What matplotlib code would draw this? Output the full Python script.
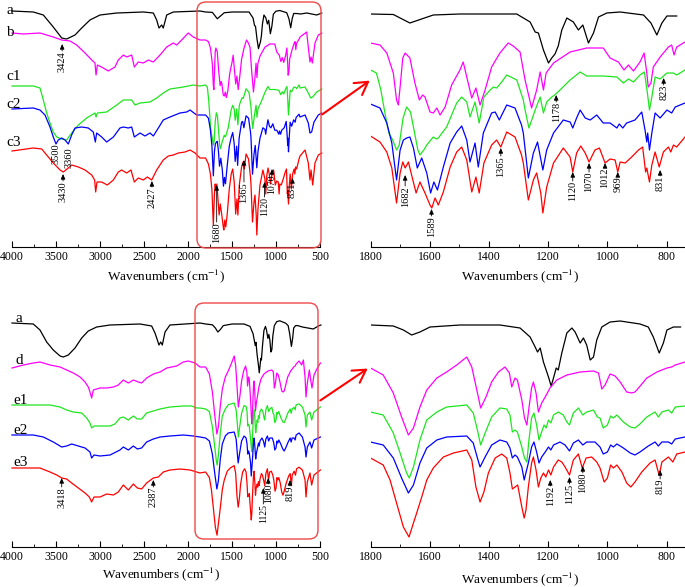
import numpy as np
import matplotlib
matplotlib.use("Agg")
import matplotlib.pyplot as plt
from matplotlib.patches import FancyBboxPatch, FancyArrowPatch
from matplotlib.ticker import MultipleLocator
from matplotlib.transforms import Affine2D

plt.rcParams['font.family'] = ['Liberation Serif', 'DejaVu Serif']
plt.rcParams['mathtext.fontset'] = 'stix'

W, H = 685, 587

# spectra, stacked, arbitrary units (grow downward)
# ---------------- upper figure: a, b, c1, c2, c3 ----------------
# 1800-740 cm-1 (zoomed panel)
top_a_zoom_wn = [1800, 1723, 1667, 1588, 1498, 1306, 1295, 1261, 1244, 1233, 1216, 1199, 1188, 1177, 1166, 1154,
                 1137, 1115, 1098, 1083, 1064, 1047, 1030, 1002, 957, 878, 853, 833, 816, 799, 766]
top_a_zoom_y = [14, 14.5, 23, 15, 14, 14, 16, 22, 32, 33, 50, 63, 58, 54, 46, 30,
                18, 22, 30, 25, 43, 33, 17, 13, 12, 15, 23, 35, 23, 16, 16]

top_b_zoom_wn = [1800, 1768, 1745, 1723, 1712, 1706, 1700, 1691, 1683, 1667, 1650, 1635, 1624, 1616, 1599, 1588,
                 1576, 1565, 1548, 1526, 1498, 1487, 1475, 1458, 1444, 1430, 1413, 1391, 1363, 1335, 1318, 1295,
                 1278, 1256, 1239, 1227, 1216, 1207, 1182, 1126, 1070, 1014, 991, 963, 944, 929, 912, 890,
                 876, 867, 862, 853, 845, 822, 794, 783, 775, 766, 738]
top_b_zoom_y = [43, 45, 53, 73, 100, 105, 87, 58, 53, 58, 83, 100, 95, 97, 112, 113,
                108, 115, 107, 85, 70, 62, 77, 98, 88, 105, 90, 67, 53, 43, 46, 52,
                80, 108, 90, 72, 90, 73, 63, 52, 48, 48, 58, 62, 70, 65, 71, 62,
                53, 73, 87, 83, 67, 57, 47, 45, 55, 47, 42]

top_c1_zoom_wn = [1800, 1780, 1765, 1750, 1738, 1725, 1712, 1703, 1690, 1678, 1665, 1655, 1640, 1633, 1620, 1610,
                  1588, 1578, 1571, 1543, 1509, 1492, 1475, 1464, 1447, 1433, 1417, 1396, 1385, 1374, 1357, 1340,
                  1306, 1284, 1278, 1265, 1244, 1227, 1216, 1205, 1188, 1178, 1160, 1126, 1092, 1070, 1014, 968,
                  946, 929, 912, 890, 875, 865, 858, 850, 839, 822, 799, 777, 766, 738]
top_c1_zoom_y = [70, 73, 90, 115, 133, 140, 150, 145, 118, 107, 112, 127, 150, 155, 150, 145,
                 137, 139, 138, 127, 103, 97, 102, 117, 102, 123, 97, 90, 87, 88, 82, 75,
                 80, 100, 110, 128, 110, 97, 113, 102, 97, 95, 90, 80, 72, 76, 76, 77,
                 83, 79, 82, 75, 72, 93, 110, 97, 77, 79, 73, 73, 75, 70]

top_c2_zoom_wn = [1800, 1768, 1745, 1728, 1712, 1700, 1689, 1678, 1667, 1655, 1642, 1627, 1610, 1597, 1586, 1574,
                  1554, 1531, 1509, 1492, 1475, 1464, 1447, 1436, 1419, 1391, 1379, 1365, 1340, 1312, 1290, 1284,
                  1267, 1250, 1236, 1218, 1205, 1182, 1149, 1126, 1117, 1104, 1092, 1075, 1058, 1036, 1014, 991,
                  968, 960, 948, 935, 907, 884, 873, 867, 864, 858, 850, 839, 822, 799, 783, 771, 738]
top_c2_zoom_y = [104, 108, 123, 143, 180, 150, 140, 138, 137, 148, 168, 158, 173, 193, 182, 190,
                 167, 143, 132, 126, 140, 162, 143, 167, 133, 113, 112, 120, 105, 108, 125, 133,
                 178, 153, 142, 170, 150, 133, 120, 122, 128, 118, 110, 118, 120, 115, 123, 123,
                 128, 124, 128, 123, 120, 112, 130, 142, 133, 150, 133, 113, 118, 110, 113, 107, 103]

top_c3_zoom_wn = [1800, 1768, 1745, 1728, 1712, 1700, 1691, 1683, 1672, 1657, 1646, 1633, 1616, 1599, 1593, 1582,
                  1571, 1554, 1531, 1509, 1492, 1475, 1458, 1444, 1433, 1417, 1391, 1374, 1360, 1340, 1312, 1290,
                  1284, 1267, 1250, 1239, 1225, 1218, 1205, 1182, 1149, 1126, 1117, 1104, 1090, 1075, 1062, 1042,
                  1027, 1008, 991, 974, 965, 957, 940, 918, 895, 881, 871, 867, 858, 850, 839, 825, 811, 794,
                  786, 777, 766, 738]
top_c3_zoom_y = [136, 142, 152, 168, 203, 173, 162, 168, 162, 180, 193, 182, 193, 205, 208, 198,
                 205, 192, 167, 152, 147, 160, 192, 177, 193, 163, 145, 140, 147, 132, 137, 155,
                 163, 200, 180, 173, 193, 213, 187, 163, 148, 157, 172, 153, 146, 153, 162, 150,
                 148, 163, 159, 160, 172, 162, 163, 157, 150, 147, 172, 168, 182, 165, 152, 167, 152, 147,
                 152, 145, 147, 137]

# outside 1800-740 cm-1 (full range panel)
top_a_wide_wn = [4000, 3758, 3644, 3531, 3435, 3379, 3284, 3208, 3114, 3000, 2810, 2508, 2394, 2356, 2330, 2299,
                 2281, 2242, 2167, 1864, 720, 651, 537, 480]
top_a_wide_y = [11, 12, 15, 27, 38, 39, 35, 28, 20, 15, 13, 12, 13, 20, 28, 25,
                28, 15, 12, 11, 14, 13, 15, 13]

top_b_wide_wn = [4000, 3872, 3682, 3531, 3435, 3341, 3265, 3170, 3094, 3057, 3045, 3030, 2962, 2906, 2830, 2792,
                 2735, 2697, 2640, 2610, 2565, 2508, 2451, 2394, 2318, 2242, 2167, 2129, 2072, 1997, 1940, 1864,
                 727, 651, 633, 614, 602, 587, 557, 519, 480]
top_b_wide_y = [33, 34, 33, 37, 40, 41, 45, 53, 60, 63, 75, 65, 68, 71, 67, 60,
                55, 57, 55, 67, 62, 63, 60, 62, 55, 47, 43, 45, 40, 33, 37, 40,
                37, 32, 47, 62, 57, 63, 43, 35, 33]

top_c1_wide_wn = [4000, 3758, 3682, 3644, 3606, 3568, 3531, 3492, 3435, 3379, 3322, 3246, 3151, 3057, 3045, 3030,
                  2924, 2810, 2735, 2640, 2602, 2545, 2432, 2356, 2281, 2205, 2129, 2053, 1940, 1864,
                  727, 670, 633, 606, 583, 537, 480]
top_c1_wide_y = [86, 86, 88, 100, 113, 123, 132, 137, 139, 140, 133, 125, 118, 113, 117, 113,
                 112, 105, 100, 100, 105, 103, 102, 98, 93, 89, 88, 87, 85, 86,
                 88, 87, 93, 98, 97, 92, 89]

top_c2_wide_wn = [4000, 3758, 3682, 3625, 3568, 3531, 3500, 3474, 3435, 3398, 3360, 3322, 3284, 3208, 3133, 3076,
                  3053, 3038, 2981, 2924, 2848, 2773, 2735, 2678, 2640, 2610, 2545, 2489, 2432, 2394, 2337, 2281,
                  2205, 2091, 2015, 1977, 1902, 1864, 727, 670, 633, 614, 595, 568, 519, 480]
top_c2_wide_y = [109, 108, 110, 115, 127, 137, 144, 140, 138, 140, 144, 135, 128, 127, 128, 132,
                 142, 133, 137, 142, 137, 128, 127, 128, 127, 137, 133, 136, 133, 136, 128, 120,
                 117, 113, 112, 110, 115, 115, 117, 115, 123, 133, 132, 122, 115, 113]

top_c3_wide_wn = [4000, 3758, 3662, 3606, 3531, 3454, 3417, 3360, 3322, 3246, 3170, 3094, 3061, 3049, 3034, 2981,
                  2917, 2848, 2792, 2754, 2697, 2648, 2610, 2565, 2508, 2462, 2413, 2356, 2281, 2224, 2167, 2110,
                  2034, 1977, 1920, 1864, 727, 670, 633, 614, 602, 583, 557, 519, 480]
top_c3_wide_y = [151, 148, 149, 155, 163, 170, 172, 168, 165, 167, 170, 175, 180, 192, 182, 182,
                 185, 180, 172, 170, 173, 170, 182, 178, 180, 177, 180, 170, 160, 156, 155, 153,
                 152, 150, 153, 158, 156, 150, 163, 180, 170, 185, 163, 155, 153]

# ---------------- lower figure: a, d, e1, e2, e3 ----------------
bot_a_zoom_wn = [1800, 1723, 1689, 1661, 1633, 1599, 1498, 1363, 1295, 1261, 1244, 1236, 1227, 1216, 1199, 1190,
                 1182, 1173, 1166, 1154, 1137, 1120, 1109, 1092, 1081, 1070, 1058, 1047, 1036, 1019, 991, 957,
                 890, 862, 845, 825, 811, 799, 777, 753]
bot_a_zoom_y = [325, 326, 330, 335, 332, 327, 325, 325, 328, 337, 347, 352, 348, 362, 377, 386,
                378, 368, 370, 353, 333, 328, 332, 343, 338, 345, 360, 357, 340, 327, 322, 321,
                324, 327, 337, 353, 343, 330, 327, 327]

bot_d_zoom_wn = [1800, 1757, 1723, 1695, 1672, 1655, 1633, 1610, 1576, 1543, 1509, 1475, 1458, 1441, 1428, 1410,
                 1391, 1368, 1346, 1331, 1323, 1312, 1304, 1289, 1280, 1272, 1265, 1256, 1250, 1241, 1233, 1222,
                 1210, 1194, 1171, 1137, 1092, 1047, 1030, 1019, 1008, 991, 974, 957, 935, 918, 907, 895,
                 867, 833, 799, 783, 771, 738]
bot_d_zoom_y = [368, 375, 393, 417, 435, 428, 407, 390, 378, 372, 365, 357, 367, 390, 408, 397,
                382, 372, 367, 373, 387, 378, 380, 400, 418, 425, 408, 388, 382, 393, 412, 403,
                397, 388, 380, 375, 372, 371, 373, 389, 385, 374, 376, 382, 392, 393, 392, 388,
                378, 372, 368, 367, 365, 362]

bot_e1_zoom_wn = [1800, 1757, 1723, 1700, 1678, 1669, 1655, 1633, 1610, 1576, 1543, 1475, 1453, 1439, 1428, 1413,
                  1391, 1363, 1340, 1329, 1321, 1312, 1304, 1289, 1280, 1272, 1265, 1256, 1248, 1239, 1231, 1222,
                  1214, 1207, 1199, 1191, 1182, 1166, 1149, 1137, 1128, 1115, 1098, 1083, 1070, 1047, 1034, 1025,
                  1014, 1000, 989, 980, 968, 946, 923, 907, 890, 867, 839, 828, 816, 794, 783, 771, 738]
bot_e1_zoom_y = [412, 415, 433, 453, 473, 478, 467, 440, 420, 412, 407, 405, 413, 430, 445, 433,
                 417, 408, 409, 415, 432, 430, 432, 447, 458, 462, 440, 418, 413, 425, 440, 432,
                 425, 428, 420, 423, 415, 412, 415, 422, 425, 413, 408, 415, 412, 410, 417, 418,
                 428, 425, 416, 418, 415, 422, 427, 428, 424, 417, 412, 417, 412, 410, 413, 407, 406]

bot_e2_zoom_wn = [1800, 1757, 1723, 1695, 1672, 1655, 1633, 1610, 1576, 1543, 1475, 1453, 1439, 1430, 1413, 1391,
                  1363, 1340, 1329, 1321, 1312, 1304, 1289, 1281, 1267, 1256, 1248, 1239, 1231, 1222, 1210, 1199,
                  1191, 1182, 1160, 1143, 1128, 1115, 1098, 1083, 1070, 1042, 1025, 1014, 1000, 989, 980, 968,
                  946, 923, 907, 890, 862, 839, 828, 816, 794, 783, 771, 738]
bot_e2_zoom_y = [442, 445, 458, 478, 493, 485, 463, 448, 440, 437, 436, 443, 458, 467, 457, 445,
                 440, 442, 448, 458, 455, 457, 467, 480, 463, 447, 442, 452, 463, 457, 452, 447,
                 450, 445, 442, 445, 451, 443, 440, 445, 442, 442, 447, 454, 452, 445, 447, 444,
                 448, 453, 455, 452, 446, 442, 446, 442, 442, 444, 439, 437]

bot_e3_zoom_wn = [1800, 1757, 1734, 1712, 1689, 1670, 1655, 1644, 1627, 1610, 1588, 1554, 1520, 1475, 1458, 1444,
                  1430, 1417, 1402, 1379, 1357, 1340, 1329, 1321, 1312, 1303, 1289, 1281, 1275, 1267, 1256, 1250,
                  1241, 1233, 1225, 1216, 1208, 1199, 1191, 1182, 1166, 1154, 1143, 1128, 1115, 1098, 1085, 1072,
                  1053, 1036, 1025, 1011, 1000, 989, 980, 968, 951, 935, 921, 907, 884, 856, 839, 830,
                  825, 816, 794, 779, 766, 738]
bot_e3_zoom_y = [458, 465, 480, 503, 527, 537, 523, 513, 497, 480, 468, 457, 453, 450, 460, 487,
                 502, 492, 473, 458, 454, 458, 473, 489, 487, 485, 507, 518, 510, 487, 463, 457,
                 470, 487, 478, 473, 477, 470, 475, 467, 460, 462, 467, 475, 460, 454, 468, 458,
                 457, 462, 468, 482, 478, 465, 468, 465, 472, 483, 487, 482, 472, 463, 460, 470,
                 475, 462, 457, 462, 454, 452]

bot_a_wide_wn = [4000, 3758, 3682, 3606, 3531, 3454, 3417, 3360, 3284, 3208, 3133, 3038, 2886, 2545, 2413, 2375,
                 2348, 2330, 2310, 2292, 2261, 2205, 1864, 700, 576, 519, 490]
bot_a_wide_y = [323, 324, 330, 342, 350, 356, 357, 355, 348, 338, 331, 327, 325, 324, 326, 333,
                340, 345, 342, 345, 332, 325, 323, 327, 329, 326, 325]

bot_d_wide_wn = [4000, 3872, 3758, 3682, 3568, 3454, 3379, 3303, 3227, 3170, 3133, 3114, 3095, 3076, 3000, 2924,
                 2848, 2792, 2735, 2678, 2621, 2565, 2527, 2470, 2394, 2318, 2242, 2129, 2053, 1997, 1920, 1864,
                 708, 689, 670, 659, 644, 621, 606, 591, 568, 530, 495]
bot_d_wide_y = [368, 365, 363, 362, 365, 367, 370, 373, 377, 382, 387, 392, 398, 390, 388, 388,
                387, 385, 380, 383, 380, 382, 383, 378, 374, 372, 368, 366, 362, 361, 363, 367,
                365, 360, 377, 397, 383, 370, 380, 388, 375, 368, 363]

bot_e1_wide_wn = [4000, 3568, 3454, 3379, 3303, 3208, 3151, 3114, 3095, 3068, 3000, 2886, 2830, 2773, 2735, 2678,
                  2621, 2576, 2527, 2470, 2394, 2318, 2205, 2053, 1958, 1902, 1864,
                  700, 670, 659, 644, 614, 595, 568, 495]
bot_e1_wide_y = [405, 405, 407, 410, 412, 413, 418, 423, 428, 426, 426, 426, 424, 418, 417, 420,
                 416, 419, 419, 413, 411, 409, 407, 406, 406, 408, 408,
                 407, 415, 427, 415, 412, 420, 412, 407]

bot_e2_wide_wn = [4000, 3758, 3644, 3531, 3435, 3379, 3322, 3246, 3170, 3114, 3095, 3068, 3000, 2886, 2773, 2735,
                  2678, 2621, 2576, 2527, 2470, 2394, 2318, 2205, 2053, 1940, 1864,
                  700, 670, 659, 644, 614, 595, 568, 495]
bot_e2_wide_y = [435, 435, 437, 442, 447, 446, 444, 446, 448, 452, 458, 455, 456, 455, 450, 447,
                 450, 446, 449, 448, 442, 439, 437, 436, 435, 436, 437,
                 437, 447, 457, 447, 442, 448, 440, 437]

bot_e3_wide_wn = [4000, 3682, 3568, 3492, 3435, 3379, 3322, 3246, 3170, 3121, 3095, 3068, 3000, 2924, 2848, 2792,
                  2735, 2678, 2621, 2576, 2527, 2470, 2394, 2337, 2281, 2205, 2091, 1977, 1902, 1864,
                  700, 670, 659, 644, 614, 595, 568, 495]
bot_e3_wide_y = [468, 468, 472, 475, 478, 479, 483, 488, 493, 497, 502, 497, 497, 494, 495, 492,
                 485, 490, 484, 488, 489, 483, 478, 477, 472, 470, 469, 470, 472, 473,
                 470, 480, 497, 482, 473, 485, 475, 470]

# peak labels: text, wavenumber
top_full_peaks = ['3424', '3500', '3360', '3430', '2427', '1680', '1365', '1120', '1070', '831']
top_full_peak_wn = [3430, 3495, 3355, 3420, 2410, 1674, 1364, 1130, 1045, 813]
top_zoom_peaks = ['1682', '1589', '1365', '1178', '823', '1120', '1070', '1012', '969', '831']
top_zoom_peak_wn = [1683, 1594, 1360, 1173, 810, 1117, 1062, 1008, 965, 822]
bot_full_peaks = ['3418', '2387', '1125', '1080', '819']
bot_full_peak_wn = [3435, 2394, 1144, 1088, 841]
bot_zoom_peaks = ['1192', '1125', '1080', '819']
bot_zoom_peak_wn = [1193, 1128, 1083, 822]

# layout: arrow tip / text top (px) and font size for each label
top_full_marks = [(44, 51, 7.5), (None, 143, 7.5), (None, 147, 7.5), (174, 181, 7.5), (181, 187, 7.5),
                  (185, 222, 7.5), (160, 182, 7.5), (182, 197, 7), (169, 175, 7), (178, 183, 7.5)]
top_zoom_marks = [(175, 186, 7.5), (209, 216, 7.5), (148, 156, 7.5), (95, 102, 7.5), (78, 85, 7.5),
                  (172, 181, 7.5), (163, 172, 7.5), (163, 168, 7.5), (172, 176, 7.5), (170, 176, 7.5)]
bot_full_marks = [(478, 487, 7.5), (480, 487, 7.5), (488, 504, 7), (478, 484, 7), (480, 486, 7.5)]
bot_zoom_marks = [(480, 486, 7.5), (477, 484, 7.5), (466, 473, 7.5), (470, 479, 7.5)]

colors = {'a': 'black', 'b': '#ff00ff', 'd': '#ff00ff', 'c1': '#1ee61e', 'e1': '#1ee61e',
          'c2': '#0000ff', 'e2': '#0000ff', 'c3': '#ff0000', 'e3': '#ff0000'}

top_set = [('a', top_a_wide_wn, top_a_wide_y, top_a_zoom_wn, top_a_zoom_y, 12, 0.75),
           ('b', top_b_wide_wn, top_b_wide_y, top_b_zoom_wn, top_b_zoom_y, 40, 0.8),
           ('c1', top_c1_wide_wn, top_c1_wide_y, top_c1_zoom_wn, top_c1_zoom_y, 85, 0.75),
           ('c2', top_c2_wide_wn, top_c2_wide_y, top_c2_zoom_wn, top_c2_zoom_y, 115, 0.8),
           ('c3', top_c3_wide_wn, top_c3_wide_y, top_c3_zoom_wn, top_c3_zoom_y, 158, 1.0)]
bot_set = [('a', bot_a_wide_wn, bot_a_wide_y, bot_a_zoom_wn, bot_a_zoom_y, 324, 0.8),
           ('d', bot_d_wide_wn, bot_d_wide_y, bot_d_zoom_wn, bot_d_zoom_y, 367, 1.0),
           ('e1', bot_e1_wide_wn, bot_e1_wide_y, bot_e1_zoom_wn, bot_e1_zoom_y, 409, 0.85),
           ('e2', bot_e2_wide_wn, bot_e2_wide_y, bot_e2_zoom_wn, bot_e2_zoom_y, 438, 1.0),
           ('e3', bot_e3_wide_wn, bot_e3_wide_y, bot_e3_zoom_wn, bot_e3_zoom_y, 472, 0.8)]


def stitch(wide_wn, wide_y, zoom_wn, zoom_y, base, k):
    # full range curve = own points outside the zoom window + rescaled zoom window
    zy = base + k * (np.asarray(zoom_y, float) - zoom_y[0])
    wn = np.concatenate([wide_wn, zoom_wn]).astype(float)
    y = np.concatenate([wide_y, zy])
    order = np.argsort(wn)[::-1]
    return wn[order], y[order]


fig = plt.figure(figsize=(W / 100, H / 100), dpi=100)
pix = Affine2D().scale(1 / W, -1 / H).translate(0, 1) + fig.transFigure


def panel(x0, x1, y0, y1, xlim, major, minor, lab_x, lab_gap):
    ax = fig.add_axes([x0 / W, 1 - y1 / H, (x1 - x0) / W, (y1 - y0) / H])
    ax.set_xlim(xlim)
    ax.set_ylim(y1, y0)
    ax.patch.set_visible(False)
    for s in ('left', 'right', 'top'):
        ax.spines[s].set_visible(False)
    ax.spines['bottom'].set_linewidth(0.8)
    ax.set_yticks([])
    ax.xaxis.set_major_locator(MultipleLocator(major))
    ax.xaxis.set_minor_locator(MultipleLocator(minor))
    ax.tick_params(axis='x', which='major', direction='in', length=4, width=0.8, labelsize=8.5, pad=3)
    ax.tick_params(axis='x', which='minor', direction='in', length=2.5, width=0.6)
    ax.set_xlabel('Wavenumbers (cm$^{-1}$)', fontsize=9.5)
    ax.xaxis.set_label_coords(lab_x, -lab_gap / (y1 - y0))
    return ax


def marks(ax, names, wns, layout):
    for txt, wn, (tip, top, fs) in zip(names, wns, layout):
        if tip is not None:
            ax.annotate('', xy=(wn, tip), xytext=(wn, top),
                        arrowprops=dict(arrowstyle='-|>,head_length=0.5,head_width=0.22', color='black',
                                        lw=0.6, shrinkA=0, shrinkB=0, mutation_scale=6))
        ax.text(wn, top, txt, rotation=90, ha='center', va='top', fontsize=fs)


tl = panel(12, 320, 0, 246.7, (4000, 500), 500, 250, 0.5, 21)
tr = panel(370.5, 685, 0, 246.7, (1800, 738), 200, 100, 0.475, 21)
bl = panel(12, 320, 290, 546.7, (4000, 500), 500, 250, 0.484, 19)
br = panel(370.5, 685, 290, 546.7, (1800, 738), 200, 100, 0.475, 24)

for ax_full, ax_zoom, curves in ((tl, tr, top_set), (bl, br, bot_set)):
    for name, ww, wy, zw, zy, base, k in curves:
        wn, y = stitch(ww, wy, zw, zy, base, k)
        ax_full.plot(wn, y, color=colors[name], lw=0.9, clip_on=False)
        ax_zoom.plot(zw, zy, color=colors[name], lw=0.9)

marks(tl, top_full_peaks, top_full_peak_wn, top_full_marks)
marks(tr, top_zoom_peaks, top_zoom_peak_wn, top_zoom_marks)
marks(bl, bot_full_peaks, bot_full_peak_wn, bot_full_marks)
marks(br, bot_zoom_peaks, bot_zoom_peak_wn, bot_zoom_marks)

# curve names
for txt, x, y in [('a', 6, 11), ('b', 6, 33), ('c1', 6, 77), ('c2', 6, 105), ('c3', 6, 143),
                  ('a', 15, 319), ('d', 15, 360), ('e1', 13, 400), ('e2', 13, 430), ('e3', 13, 463)]:
    fig.text(x / W, 1 - y / H, txt, fontsize=11, ha='left', va='center')

# zoom boxes and arrows
for x, y, w, h in [(197, 2, 124, 246), (195, 303, 123, 236)]:
    fig.add_artist(FancyBboxPatch((x, y), w, h, boxstyle='round,pad=0,rounding_size=9',
                                  transform=pix, fill=False, ec='#f04848', lw=1.0))
for p0, p1 in [((320, 116), (372, 79)), ((318, 402), (370, 367))]:
    fig.add_artist(FancyArrowPatch(p0, p1, transform=pix, color='red', lw=1.5,
                                   arrowstyle='->,head_length=0.6,head_width=0.35', mutation_scale=15))

fig.savefig('out.png', dpi=100)
